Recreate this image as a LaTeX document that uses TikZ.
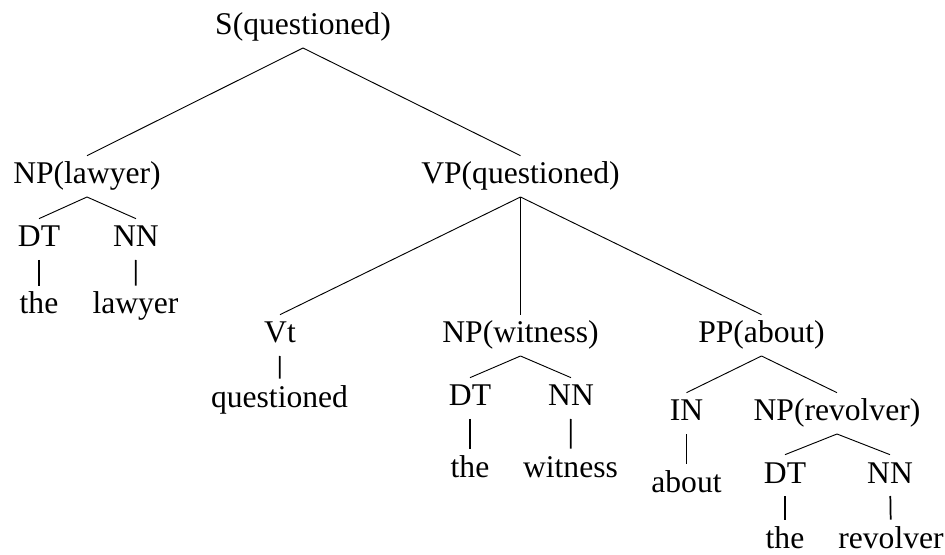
\documentclass[tikz,border=0pt]{standalone}
\usepackage{fontspec}
\setmainfont{Liberation Serif}
\newfontfamily\treefont{Liberation Serif}
\tikzset{lbl/.style={anchor=base, inner xsep=0pt, inner ysep=5.2pt, text height=15.7pt, text depth=4.2pt, font=\treefont\fontsize{23.7pt}{28pt}\selectfont},
  stem/.style={line width=1.3pt}}
\begin{document}
\begin{tikzpicture}[x=0.75pt, y=-0.75pt, line width=0.7pt]
\useasboundingbox (0,0) rectangle (945,555);
\node[lbl] (s) at (303,35) {S(questioned)};
\node[lbl] (npl) at (87,184) {NP(lawyer)};
\node[lbl] (vp) at (520.5,184) {VP(questioned)};
\node[lbl] (dtl) at (39,247) {DT}; \node[lbl] (nnl) at (136,247) {NN};
\node[lbl] (thel) at (39,314) {the}; \node[lbl] (lawyer) at (135.5,314) {lawyer};
\node[lbl] (vt) at (280,343) {Vt};
\node[lbl] (qd) at (279.5,407) {questioned};
\node[lbl] (npw) at (520.5,343) {NP(witness)};
\node[lbl] (dtw) at (470,406) {DT}; \node[lbl] (nnw) at (571,406) {NN};
\node[lbl] (thew) at (470,477) {the}; \node[lbl] (witness) at (570.5,477) {witness};
\node[lbl] (pp) at (761.5,343) {PP(about)};
\node[lbl] (prep) at (686.5,421) {IN};
\node[lbl] (about) at (686.5,492) {about};
\node[lbl] (npr) at (837,421) {NP(revolver)};
\node[lbl] (dtr) at (785,483) {DT}; \node[lbl] (nnr) at (890,483) {NN};
\node[lbl] (ther) at (785,548) {the}; \node[lbl] (revolver) at (891,548) {revolver};
\draw (s.south) -- (npl.north); \draw (s.south) -- (vp.north);
\draw (npl.south) -- (dtl.north); \draw (npl.south) -- (nnl.north);
\draw[stem] (dtl) -- (thel); \draw[stem] (nnl) -- (lawyer);
\draw (vp.south) -- (vt.north); \draw[stem] (vp.south) -- (npw.north); \draw (vp.south) -- (pp.north);
\draw[stem] (vt) -- (qd);
\draw (npw.south) -- (dtw.north); \draw (npw.south) -- (nnw.north);
\draw[stem] (dtw) -- (thew); \draw[stem] (nnw) -- (witness);
\draw (pp.south) -- (prep.north); \draw (pp.south) -- (npr.north);
\draw[stem] (prep) -- (about);
\draw (npr.south) -- (dtr.north); \draw (npr.south) -- (nnr.north);
\draw[stem] (dtr) -- (ther); \draw[stem] (nnr) -- (revolver);
\end{tikzpicture}
\end{document}
